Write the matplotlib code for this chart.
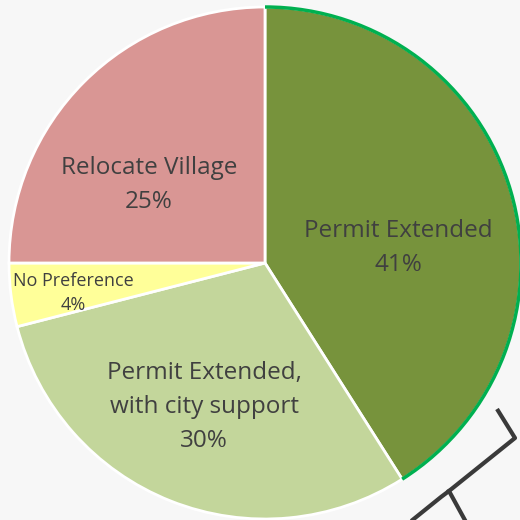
import matplotlib
matplotlib.use("Agg")
import matplotlib.pyplot as plt
from matplotlib.patches import Arc
from matplotlib.lines import Line2D

categories = ["Permit Extended", "Permit Extended,\nwith city support", "No Preference", "Relocate Village"]
values = [41, 30, 4, 25]
colors = ["#77933C", "#C3D69B", "#FFFF99", "#D99694"]

W = H = 520
fig = plt.figure(figsize=(5.2, 5.2), dpi=100, facecolor="#F7F7F7")
ax = fig.add_axes([0, 0, 1, 1])
ax.set_facecolor("#F7F7F7")

cx, cy, r = 265, H - 263, 256
wedges, _ = ax.pie(values, colors=colors, startangle=90, counterclock=False,
                   center=(cx, cy), radius=r, frame=True,
                   wedgeprops=dict(edgecolor="white", linewidth=2))
ax.set_xlim(0, W)
ax.set_ylim(0, H)
ax.set_aspect("equal")
ax.axis("off")

# green outline on first slice's outer arc
w0 = wedges[0]
ax.add_patch(Arc((cx, cy), 2 * r, 2 * r, theta1=w0.theta1, theta2=w0.theta2,
                 color="#00B050", lw=2.5, zorder=5))

txt = "#404040"
font = "Open Sans"
ax.text(398, H - 248, f"{categories[0]}\n{values[0]}%", ha="center", va="center",
        fontsize=17.5, color=txt, family=font, linespacing=1.55)
ax.text(204, H - 407, f"{categories[1]}\n{values[1]}%", ha="center", va="center",
        fontsize=17.5, color=txt, family=font, linespacing=1.58)
ax.text(73, H - 293, f"{categories[2]}\n{values[2]}%", ha="center", va="center",
        fontsize=13, color=txt, family=font, linespacing=1.5)
ax.text(149, H - 185, f"{categories[3]}\n{values[3]}%", ha="center", va="center",
        fontsize=17.5, color=txt, family=font, linespacing=1.55)

# bracket decoration
bx = [497, 515, 449, 441, 410]
by = [409, 438, 491, 497, 522]
ax.add_line(Line2D(bx, [H - y for y in by], color="#3A3A3A", lw=3, zorder=6,
                   solid_joinstyle="round", solid_capstyle="butt"))
ax.add_line(Line2D([449, 466], [H - 491, H - 522], color="#3A3A3A", lw=3, zorder=6))

fig.savefig("out.png", dpi=100, facecolor=fig.get_facecolor())
